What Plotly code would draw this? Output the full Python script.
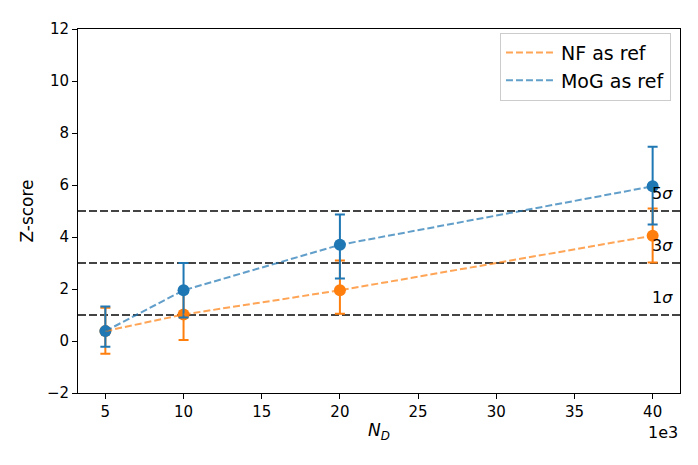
import plotly.graph_objects as go

# Data
n_d = [5000, 10000, 20000, 40000]
nf_z = [0.38, 1.02, 1.95, 4.05]
nf_err_plus = [0.9, 0.98, 1.15, 1.05]
nf_err_minus = [0.87, 0.98, 0.9, 1.03]
mog_z = [0.38, 1.95, 3.7, 5.95]
mog_err_plus = [0.95, 1.05, 1.17, 1.52]
mog_err_minus = [0.6, 1.05, 1.3, 1.47]
sigma_levels = [1, 3, 5]
sigma_labels = ["1<i>σ</i>", "3<i>σ</i>", "5<i>σ</i>"]
x_ticks = [5000, 10000, 15000, 20000, 25000, 30000, 35000, 40000]
x_ticklabels = ["5", "10", "15", "20", "25", "30", "35", "40"]
y_ticks = [-2, 0, 2, 4, 6, 8, 10, 12]
y_ticklabels = ["−2", "0", "2", "4", "6", "8", "10", "12"]

ORANGE = "#ff7f0e"
BLUE = "#1f77b4"
FONT = "DejaVu Sans"

fig = go.Figure()

# marker + error bars
for y, ep, em, c in [(nf_z, nf_err_plus, nf_err_minus, ORANGE),
                     (mog_z, mog_err_plus, mog_err_minus, BLUE)]:
    fig.add_trace(go.Scatter(
        x=n_d, y=y, mode="markers",
        marker=dict(color=c, size=12),
        error_y=dict(type="data", array=ep, arrayminus=em, color=c,
                     thickness=2, width=5),
        showlegend=False, hoverinfo="skip"))

# dashed lines
for y, c, name in [(nf_z, ORANGE, "NF as ref"), (mog_z, BLUE, "MoG as ref")]:
    fig.add_trace(go.Scatter(
        x=n_d, y=y, mode="lines", name=name, opacity=0.7,
        line=dict(color=c, width=2, dash="7px,3px")))

for lvl, lab in zip(sigma_levels, sigma_labels):
    fig.add_shape(type="line", xref="paper", x0=0, x1=1, yref="y", y0=lvl, y1=lvl,
                  line=dict(color="#444444", width=2, dash="8px,3px"), layer="below")
    fig.add_annotation(x=n_d[-1], y=lvl + 0.22, text=lab, showarrow=False,
                       xanchor="left", yanchor="bottom", xshift=-3,
                       font=dict(family=FONT, size=16, color="black"))

fig.add_annotation(xref="paper", yref="paper", x=1.0, y=-0.078, text="1e3",
                   showarrow=False, xanchor="right", yanchor="top",
                   font=dict(family=FONT, size=16, color="black"))

axis_common = dict(showgrid=False, zeroline=False, showline=True, linecolor="black",
                   linewidth=1, mirror=True, ticks="outside", ticklen=5,
                   tickcolor="black", tickfont=dict(family=FONT, size=15, color="black"))

fig.update_xaxes(range=[3250, 41750], tickvals=x_ticks, ticktext=x_ticklabels,
                 title=dict(text="<i>N</i><sub><i>D</i></sub>", standoff=4,
                            font=dict(family=FONT, size=17, color="black")),
                 **axis_common)
fig.update_yaxes(range=[-2, 12], tickvals=y_ticks, ticktext=y_ticklabels,
                 title=dict(text="Z-score", standoff=8,
                            font=dict(family=FONT, size=17, color="black")),
                 **axis_common)

fig.update_layout(
    width=698, height=465,
    margin=dict(l=70, r=26, t=16, b=80),
    plot_bgcolor="white", paper_bgcolor="white",
    legend=dict(x=0.985, y=0.99, xanchor="right", yanchor="top", itemwidth=50,
                bgcolor="rgba(255,255,255,0.8)", bordercolor="#cccccc", borderwidth=1,
                font=dict(family=FONT, size=19, color="black")),
)

fig.write_html("out.html")
